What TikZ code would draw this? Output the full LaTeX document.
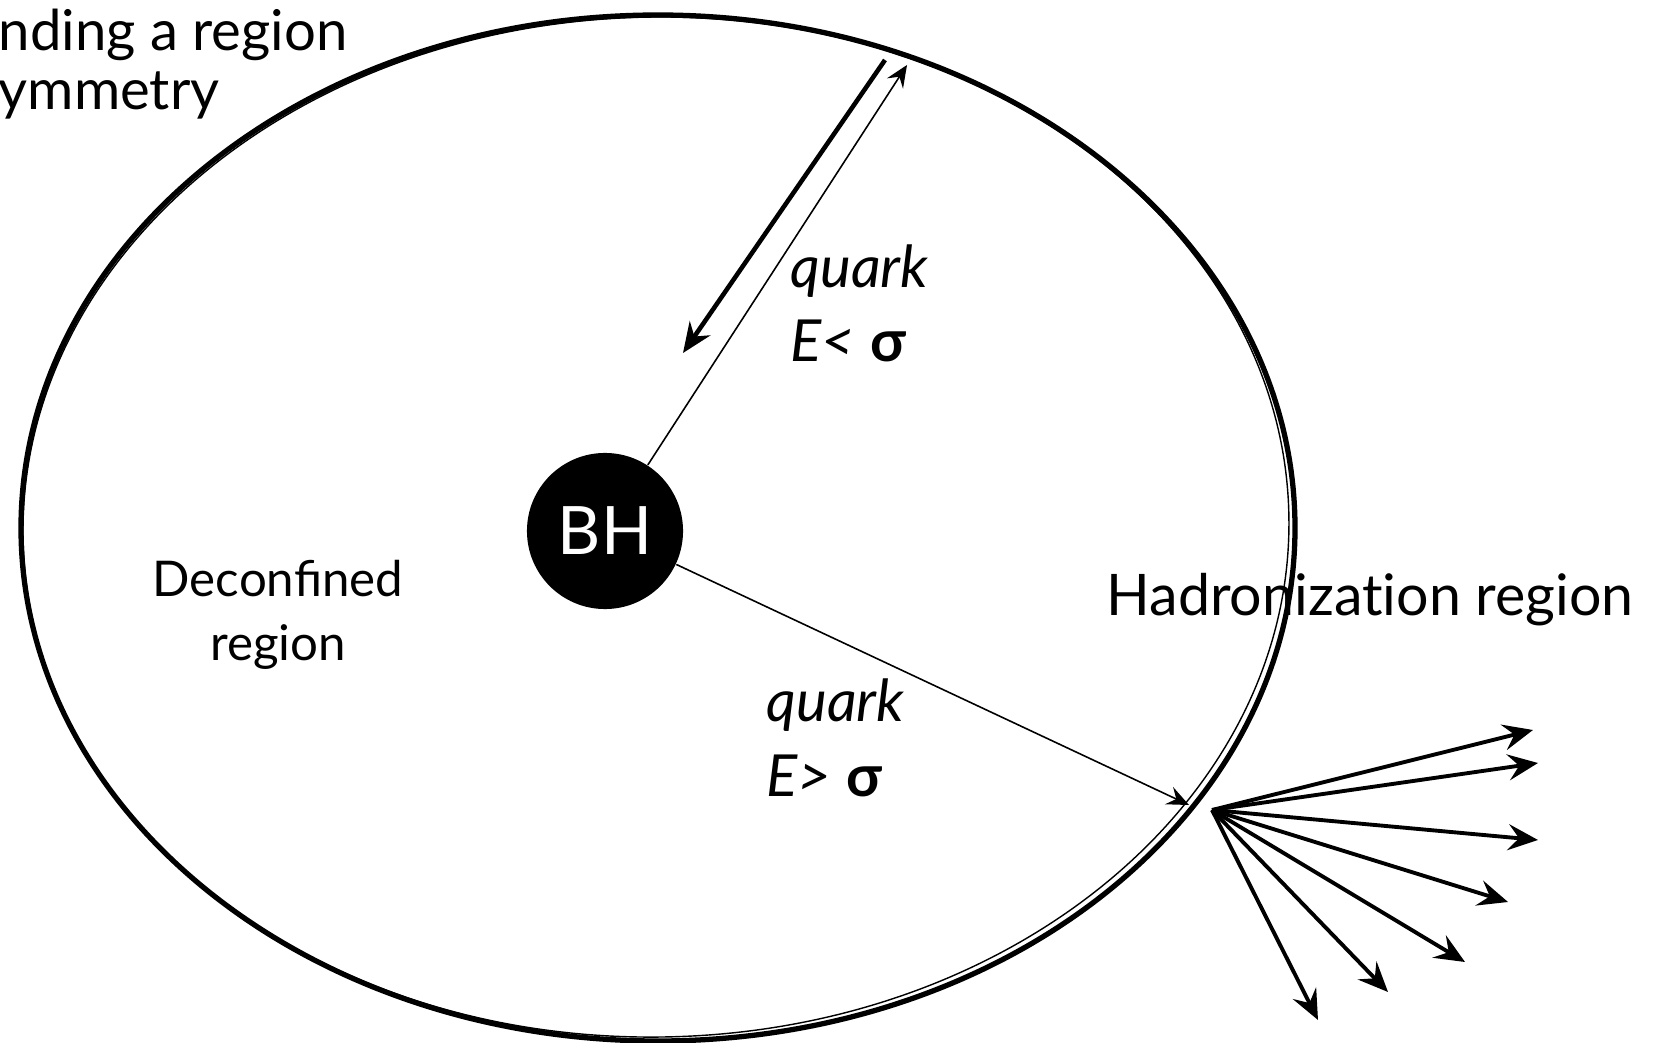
\documentclass[tikz,border=0pt]{standalone}
\usepackage{fontspec}
\setmainfont{Lato}
\usetikzlibrary{arrows.meta,positioning}

\begin{document}
\begin{tikzpicture}[x=0.01cm,y=-0.01cm,
  wall/.style={line width=1.5pt},
  ray/.style={line width=0.45pt,-{Stealth[length=2.2mm,width=1.9mm,inset=0.8mm]}},
  bounce/.style={line width=1.3pt,-{Stealth[length=3mm,width=2.5mm,inset=1mm]}},
  jet/.style={line width=1.1pt,-{Stealth[length=3mm,width=2.6mm,inset=1.1mm]}},
  lbl/.style={font=\fontsize{16}{16.8}\selectfont,inner sep=0pt,align=left},
  qlbl/.style={font=\fontsize{16.5}{21.3}\selectfont,inner sep=0pt,align=left}]
\useasboundingbox (0,0) rectangle (1657,1043);
\fill[white] (0,0) rectangle (1657,1043);
\draw[wall] (658,528) ellipse [x radius=637,y radius=513];
\draw[line width=0.4pt,rotate around={1:(658,528)}] (656,527) ellipse [x radius=633,y radius=510];
\node[circle,fill=black,text=white,minimum size=1.56cm,inner sep=0pt,font=\fontsize{19}{19}\selectfont] (bh) at (605,531) {BH};
\coordinate (wall_top) at (907,65);
\coordinate (back_start) at (885,60);
\coordinate (back_end) at (683,353);
\coordinate (wall_exit) at (1189,805);
\coordinate (fan_src) at (1212,810);
\draw[ray] (bh) -- (wall_top);
\draw[bounce] (back_start) -- (back_end);
\draw[ray] (bh) -- (wall_exit);
\foreach \i/\tx/\ty in {1/1533/730,2/1538/763,3/1538/840,4/1508/902,5/1465/962,6/1388/992,7/1318/1020}{
  \coordinate (jet_\i) at (\tx,\ty);
  \draw[jet] (fan_src) -- (jet_\i);
}
\node[lbl,anchor=base west] (sym_txt) at (-2,110) {nding a region\\ymmetry};
\node[qlbl,anchor=base west] (q_in) at (790,362) {\textit{quark}\\\textit{E<} \textbf{σ}};
\node[qlbl,anchor=base west] (q_out) at (766,796) {\textit{quark}\\\textit{E>} \textbf{σ}};
\node[font=\fontsize{14}{18}\selectfont,inner sep=0pt,align=center] (deconf) at (278,615) {Deconfined\\region};
\node[font=\fontsize{16.3}{19}\selectfont\addfontfeature{Ligatures=NoCommon},inner sep=0pt,anchor=west] (hadron) at (1106,600) {Hadronization region};
\end{tikzpicture}
\end{document}
